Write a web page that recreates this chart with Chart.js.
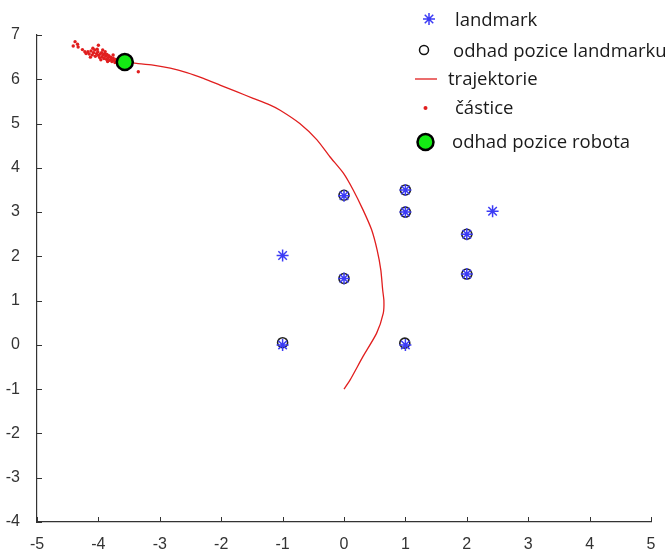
<!DOCTYPE html>
<html>
<head>
<meta charset="utf-8">
<script src="https://cdn.jsdelivr.net/npm/chart.js@4.4.0/dist/chart.umd.min.js"></script>
<style>
html,body{margin:0;padding:0;background:#fff;}
#wrap{width:671px;height:552px;position:relative;}
</style>
</head>
<body>
<div id="wrap"><canvas id="c" width="671" height="552"></canvas></div>
<script>
// ---- data ----
const landmarkX = [0, 1, 1, 2.42, 2, -1, 0, 2, -1, 1];
const landmarkY = [3.37, 3.5, 3.0, 3.02, 2.5, 2.02, 1.5, 1.6, 0.0, 0.0];

const estLandmarkX = [0, 1, 1, 2, 0, 2, -1, 0.99];
const estLandmarkY = [3.38, 3.5, 3.0, 2.5, 1.5, 1.6, 0.05, 0.04];

const trajX = [0, 0.1, 0.31, 0.53, 0.64, 0.65, 0.63, 0.6, 0.54, 0.45, 0.31, 0.15, -0.01, -0.23, -0.44,
  -0.72, -1.04, -1.21, -1.48, -1.75, -2.02, -2.29, -2.56, -2.83, -3.11, -3.38, -3.57];
const trajY = [-1, -0.79, -0.26, 0.26, 0.72, 1.0, 1.24, 1.69, 2.14, 2.6, 3.05, 3.5, 3.88, 4.25, 4.63,
  5.0, 5.3, 5.42, 5.57, 5.72, 5.87, 6.02, 6.15, 6.25, 6.32, 6.36, 6.39];

const particleX = [-4.38, -4.34, -4.41, -4.33, -4.26, -4.22, -4.0, -3.35, -3.76,
  -4.17, -4.15, -4.12, -4.10, -4.08, -4.06, -4.05, -4.03, -4.01, -4.00, -3.98, -3.97, -3.95, -3.94,
  -3.92, -3.91, -3.90, -3.88, -3.87, -3.86, -3.84, -3.83, -3.82, -3.80, -3.79, -3.78, -3.76, -3.75,
  -3.73, -3.72, -3.70, -3.69, -4.13, -4.02, -3.96, -3.89, -3.85, -4.20, -4.09, -3.93];
const particleY = [6.85, 6.79, 6.75, 6.73, 6.67, 6.62, 6.77, 6.17, 6.55,
  6.62, 6.57, 6.64, 6.55, 6.60, 6.66, 6.52, 6.58, 6.62, 6.54, 6.49, 6.57, 6.60, 6.51,
  6.55, 6.47, 6.58, 6.52, 6.45, 6.56, 6.49, 6.53, 6.43, 6.50, 6.46, 6.40, 6.48, 6.43,
  6.38, 6.45, 6.41, 6.36, 6.50, 6.68, 6.44, 6.62, 6.40, 6.58, 6.70, 6.66];

const robotX = [-3.57];
const robotY = [6.39];

const xTicks = [-5, -4, -3, -2, -1, 0, 1, 2, 3, 4, 5];
const yTicks = [-4, -3, -2, -1, 0, 1, 2, 3, 4, 5, 6, 7];

const legendLabels = ['landmark', 'odhad pozice landmarku', 'trajektorie', 'částice', 'odhad pozice robota'];

// ---- build ----
const pts = (xs, ys) => xs.map((x, i) => ({x: x, y: ys[i]}));

const BLUE = 'rgb(60,60,245)';
const RED = 'rgb(225,30,30)';
const GREEN = 'rgb(20,235,20)';

const innerTicks = {
  id: 'innerTicks',
  afterDraw(chart) {
    const ctx = chart.ctx;
    const xs = chart.scales.x, ys = chart.scales.y;
    ctx.save();
    ctx.strokeStyle = '#333';
    ctx.lineWidth = 1;
    ctx.beginPath();
    xTicks.forEach(v => {
      const p = Math.round(xs.getPixelForValue(v)) + 0.5;
      ctx.moveTo(p, ys.bottom);
      ctx.lineTo(p, ys.bottom - 5);
    });
    yTicks.forEach(v => {
      const p = Math.round(ys.getPixelForValue(v)) + 0.5;
      ctx.moveTo(xs.left, p);
      ctx.lineTo(xs.left + 5, p);
    });
    ctx.stroke();
    ctx.restore();
  }
};

const customLegend = {
  id: 'customLegend',
  afterDraw(chart) {
    const ctx = chart.ctx;
    ctx.save();
    const rows = [19, 50, 79, 108, 142];
    const baselines = [26, 56.5, 85, 113.5, 148];
    const textX = [455, 453, 448, 455, 452];
    // landmark asterisk
    ctx.strokeStyle = BLUE; ctx.lineWidth = 1.5;
    ctx.beginPath();
    const r = 6, cx = 429, cy = rows[0];
    for (let k = 0; k < 4; k++) {
      const a = k * Math.PI / 4;
      ctx.moveTo(cx - r * Math.cos(a), cy - r * Math.sin(a));
      ctx.lineTo(cx + r * Math.cos(a), cy + r * Math.sin(a));
    }
    ctx.stroke();
    // circle
    ctx.strokeStyle = '#111'; ctx.lineWidth = 1.5;
    ctx.beginPath(); ctx.arc(424, rows[1], 4.5, 0, Math.PI * 2); ctx.stroke();
    // line
    ctx.strokeStyle = RED; ctx.lineWidth = 1.3;
    ctx.beginPath(); ctx.moveTo(415, rows[2]); ctx.lineTo(437, rows[2]); ctx.stroke();
    // dot
    ctx.fillStyle = RED;
    ctx.beginPath(); ctx.arc(425.5, rows[3], 2, 0, Math.PI * 2); ctx.fill();
    // robot
    ctx.fillStyle = GREEN; ctx.strokeStyle = '#000'; ctx.lineWidth = 2.5;
    ctx.beginPath(); ctx.arc(425.5, rows[4], 8, 0, Math.PI * 2); ctx.fill(); ctx.stroke();
    // texts
    ctx.fillStyle = '#1a1a1a';
    ctx.font = '18.5px "Open Sans", "Noto Sans", sans-serif';
    ctx.textBaseline = 'alphabetic';
    ctx.textAlign = 'left';
    legendLabels.forEach((t, i) => ctx.fillText(t, textX[i], baselines[i]));
    ctx.restore();
  }
};

const tickFont = {family: '"Liberation Sans Narrow", "Liberation Sans", Arial, sans-serif', size: 16};

new Chart(document.getElementById('c'), {
  type: 'scatter',
  data: {
    datasets: [
      {label: legendLabels[0], data: pts(landmarkX, landmarkY), pointStyle: 'star', pointRadius: 6,
       borderColor: BLUE, backgroundColor: BLUE, borderWidth: 1.5, order: 3},
      {label: legendLabels[1], data: pts(estLandmarkX, estLandmarkY), pointStyle: 'circle', pointRadius: 5,
       borderColor: '#222', backgroundColor: 'rgba(0,0,0,0)', borderWidth: 1.6, order: 4},
      {label: legendLabels[2], data: pts(trajX, trajY), showLine: true, pointRadius: 0, tension: 0.2,
       borderColor: RED, borderWidth: 1.3, order: 5},
      {label: legendLabels[3], data: pts(particleX, particleY), pointStyle: 'circle', pointRadius: 1.7,
       borderWidth: 0, backgroundColor: RED, borderColor: RED, order: 2},
      {label: legendLabels[4], data: pts(robotX, robotY), pointStyle: 'circle', pointRadius: 8,
       backgroundColor: GREEN, borderColor: '#000', borderWidth: 2.5, order: 1}
    ]
  },
  options: {
    responsive: false,
    animation: false,
    events: [],
    layout: {padding: {top: 35, right: 20, left: 0, bottom: 0}},
    plugins: {legend: {display: false}, tooltip: {enabled: false}},
    scales: {
      x: {
        type: 'linear', min: -5, max: 5,
        afterBuildTicks(s) { s.ticks = xTicks.map(v => ({value: v})); },
        afterFit(s) { s.height = 30; },
        grid: {display: false},
        border: {display: true, color: '#333', width: 1.2},
        ticks: {color: '#333', font: tickFont, padding: 5, maxRotation: 0, autoSkip: false}
      },
      y: {
        type: 'linear', min: -4, max: 7,
        afterBuildTicks(s) { s.ticks = yTicks.map(v => ({value: v})); },
        afterFit(s) { s.width = 37; },
        grid: {display: false},
        border: {display: true, color: '#333', width: 1.2},
        ticks: {color: '#333', font: tickFont, padding: 9, autoSkip: false}
      }
    }
  },
  plugins: [innerTicks, customLegend]
});
</script>
</body>
</html>
